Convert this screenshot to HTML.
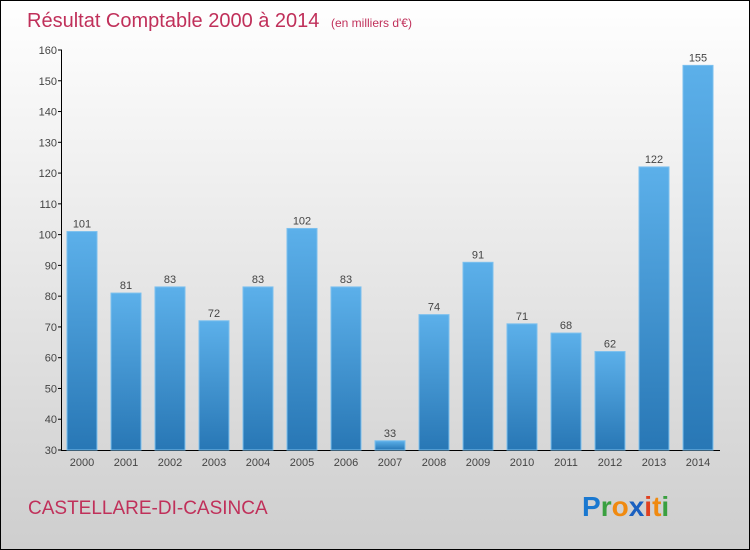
<!DOCTYPE html>
<html><head><meta charset="utf-8"><style>
body{margin:0;width:750px;height:550px;overflow:hidden}
svg{display:block;font-family:"Liberation Sans",sans-serif}
</style></head><body>
<svg width="750" height="550">
<defs>
<linearGradient id="bg" x1="0" y1="0" x2="0" y2="1"><stop offset="0" stop-color="#ffffff"/><stop offset="1" stop-color="#cecece"/></linearGradient>
<linearGradient id="bar" x1="0" y1="0" x2="0" y2="1"><stop offset="0" stop-color="#5cb0ea"/><stop offset="1" stop-color="#2877b5"/></linearGradient>
</defs>
<rect x="0.5" y="0.5" width="749" height="549" fill="url(#bg)" stroke="#000"/>
<text x="27" y="27" font-size="20" fill="#c0305a">Résultat Comptable 2000 à 2014 <tspan font-size="12" dx="6">(en milliers d'€)</tspan></text>
<g id="plot"></g>
<text x="28" y="514" font-size="19" fill="#c0305a">CASTELLARE-DI-CASINCA</text>
<g font-size="28" font-weight="bold" font-family="'Liberation Sans',sans-serif">
<text x="582" y="516"><tspan fill="#1a78d0">P</tspan><tspan fill="#3aa040">r</tspan><tspan fill="#f08a10">o</tspan><tspan fill="#1a60c0">x</tspan><tspan fill="#e04020">i</tspan><tspan fill="#f08a10">t</tspan><tspan fill="#3aa040">i</tspan></text>
</g>
</svg>
<script>
const years=["2000","2001","2002","2003","2004","2005","2006","2007","2008","2009","2010","2011","2012","2013","2014"];
const values=[101,81,83,72,83,102,83,33,74,91,71,68,62,122,155];
const ticks=[30,40,50,60,70,80,90,100,110,120,130,140,150,160];
const ns="http://www.w3.org/2000/svg";
const g=document.getElementById('plot');
const y=v=>450-(v-30)*400/130;
const x=i=>82+i*44;
function mk(t,a,txt){const e=document.createElementNS(ns,t);for(const k in a)e.setAttribute(k,a[k]);if(txt!=null)e.textContent=txt;g.appendChild(e);return e;}
let ax=mk('line',{x1:61.5,y1:50,x2:61.5,y2:450.5,stroke:'#000'});


let bx=mk('line',{x1:61,y1:450.5,x2:720,y2:450.5,stroke:'#000'});


ticks.forEach(t=>{
 let l=mk('line',{x1:58,x2:62,y1:y(t),y2:y(t),stroke:'#000'});
 
 
 let tx=mk('text',{x:57,y:y(t)+4,'font-size':11,'text-anchor':'end',fill:'#444'},t);
 
 
});
values.forEach((v,i)=>{
 let r=mk('rect',{x:x(i)-15,y:y(v),width:30,height:450-y(v),fill:'url(#bar)',stroke:'#7cc0ee','stroke-width':1});
 
 
 let vl=mk('text',{x:x(i),y:y(v)-4,'font-size':11,'text-anchor':'middle',fill:'#444'},v);
 
 
 let xl=mk('text',{x:x(i),y:466,'font-size':11,'text-anchor':'middle',fill:'#444'},years[i]);
 
 
});
</script>
</body></html>
